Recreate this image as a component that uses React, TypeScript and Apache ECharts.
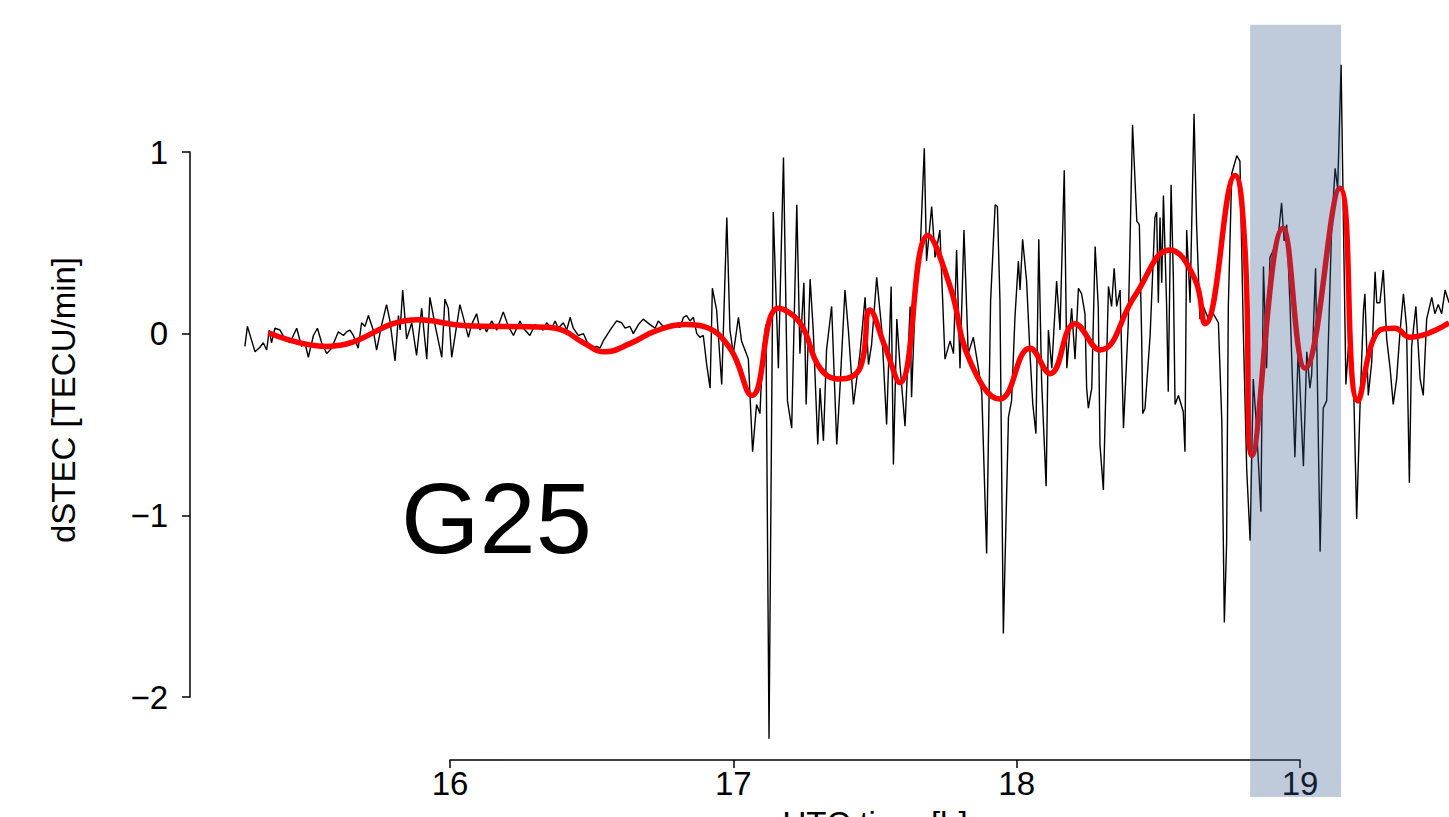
import { useEffect, useRef } from 'react';
import * as echarts from 'echarts';

// dSTEC raw series (time in UTC hours, value in TECU/min)
const blackQuiet: [number, number][] = [
  [15.276,-0.07],[15.285,0.04],[15.312,-0.10],[15.329,-0.075],[15.341,-0.05],[15.353,-0.09],[15.362,0.02],[15.370,-0.05],[15.382,0.03],[15.400,0.02],
  [15.418,-0.03],[15.435,-0.05],[15.459,0.03],[15.476,-0.07],[15.488,-0.05],[15.500,-0.13],[15.518,-0.01],[15.532,0.03],[15.547,-0.05],[15.565,-0.11],
  [15.582,-0.08],[15.606,0.01],[15.624,-0.01],[15.635,0.01],[15.647,0.02],[15.659,-0.01],[15.676,-0.08],[15.688,0.06],[15.700,0.04],[15.712,0.10],
  [15.729,0.02],[15.741,-0.09],[15.759,0.05],[15.776,0.16],[15.788,0.07],[15.806,-0.15],[15.818,0.10],[15.824,0.02],[15.833,0.24],[15.847,-0.03],
  [15.865,0.06],[15.882,-0.12],[15.900,0.14],[15.918,-0.14],[15.929,0.20],[15.947,0.05],[15.971,-0.13],[15.982,0.19],[15.994,0.14],[16.006,-0.13],
  [16.035,0.16],[16.047,0.09],[16.065,-0.02],[16.076,0.05],[16.094,0.11],[16.106,0.02],[16.118,0.05],[16.129,0.01],[16.147,0.07],[16.165,0.02],
  [16.188,0.12],[16.206,0.04],[16.224,-0.01],[16.247,0.07],[16.259,0.03],[16.282,-0.01],[16.300,0.05],[16.318,0.03],[16.329,0.02],[16.341,0.06],
  [16.359,0.03],[16.371,0.07],[16.382,0.03],[16.400,0.06],[16.412,0.02],[16.424,0.09],[16.435,0.03],[16.453,-0.01],[16.471,0.00],[16.488,-0.06],
  [16.500,-0.08],[16.518,-0.07],[16.529,-0.08],[16.541,-0.04],[16.565,0.02],[16.588,0.07],[16.606,0.06],[16.618,0.03],[16.635,0.04],[16.647,0.00],
  [16.665,0.05],[16.682,0.08],[16.706,0.05],[16.724,0.03],[16.735,0.07],[16.753,0.04],[16.776,0.05],[16.800,0.04],
];

const blackActiveA: [number, number][] = [
  [16.812,0.035],[16.824,0.09],[16.835,0.10],[16.847,0.07],[16.859,0.09],[16.871,0.00],[16.882,-0.02],[16.894,-0.01],[16.906,-0.17],[16.918,-0.30],
  [16.926,0.25],[16.941,0.13],[16.959,-0.28],[16.977,0.64],[16.988,0.02],[17.000,-0.11],[17.018,0.09],[17.029,-0.04],[17.041,-0.09],[17.053,-0.14],
  [17.068,-0.65],[17.082,-0.39],[17.094,-0.44],[17.104,-0.08],[17.115,0.05],[17.126,-2.23],[17.141,0.67],[17.159,-0.19],[17.177,0.97],[17.191,-0.37],
  [17.206,-0.52],[17.224,0.71],[17.235,-0.11],[17.249,0.28],[17.257,-0.39],[17.271,0.30],[17.282,0.02],[17.298,-0.61],[17.306,-0.30],[17.318,-0.59],
  [17.329,-0.09],[17.347,0.15],[17.365,-0.61],[17.377,-0.28],[17.394,0.24],[17.406,0.02],[17.424,-0.39],[17.447,-0.11],[17.465,0.20],[17.477,-0.17],
  [17.488,-0.06],[17.506,0.31],[17.524,0.02],[17.541,-0.50],[17.557,0.26],[17.565,-0.72],[17.577,0.08],[17.588,-0.17],[17.606,-0.51],[17.624,0.15],
  [17.629,-0.35],[17.641,0.15],[17.659,0.44],[17.674,1.02],[17.682,0.40],[17.700,0.70],[17.712,0.42],[17.729,0.57],[17.747,-0.14],[17.765,-0.04],
  [17.777,-0.11],[17.788,0.46],[17.800,-0.19],[17.814,0.57],[17.829,-0.11],[17.847,-0.02],[17.865,-0.19],[17.877,-0.33],[17.894,-1.21],[17.908,0.18],
  [17.924,0.71],[17.932,0.70],[17.941,0.18],[17.953,-1.65],[17.971,-0.46],[17.982,-0.37],[17.994,0.09],[18.006,0.40],[18.012,0.24],[18.021,0.52],
  [18.035,0.29],[18.047,-0.11],[18.057,-0.39],[18.068,-0.55],[18.078,0.52],[18.088,-0.26],[18.104,-0.84],[18.112,0.02],[18.124,-0.19],[18.141,0.29],
  [18.153,0.02],[18.168,0.90],
];

const blackActiveB: [number, number][] = [
  [18.177,-0.19],[18.194,0.14],[18.206,-0.14],[18.218,0.25],[18.229,0.22],[18.241,0.11],[18.247,-0.30],[18.253,-0.41],[18.265,-0.30],[18.277,0.48],
  [18.288,0.15],[18.294,-0.61],[18.306,-0.86],[18.324,0.26],[18.335,0.15],[18.344,0.36],[18.353,0.15],[18.365,0.24],[18.377,-0.52],[18.394,0.06],
  [18.409,1.15],[18.424,0.62],[18.433,0.60],[18.441,-0.01],[18.445,-0.44],[18.453,-0.41],[18.471,-0.01],[18.488,0.64],[18.494,0.67],[18.500,0.17],
  [18.506,0.64],[18.512,0.28],[18.518,0.76],[18.529,0.17],[18.535,-0.32],[18.545,0.82],[18.553,0.31],[18.559,-0.39],[18.571,-0.34],[18.588,-0.43],
  [18.594,-0.65],[18.600,0.57],[18.612,0.17],[18.626,1.21],[18.635,0.60],[18.647,0.08],[18.659,0.15],[18.677,0.08],[18.694,0.11],[18.712,0.06],
  [18.724,-0.48],[18.733,-1.59],[18.741,-1.15],[18.747,0.15],[18.759,0.88],[18.777,0.98],[18.788,0.95],[18.800,0.01],[18.812,-0.75],[18.824,-1.14],
  [18.835,-0.25],[18.847,-0.52],[18.862,-0.98],[18.871,0.37],[18.882,-0.19],[18.894,0.42],[18.906,0.46],[18.924,0.55],[18.935,0.72],[18.944,0.51],
  [18.953,0.60],[18.965,0.15],[18.982,-0.68],[18.994,-0.07],[19.000,-0.30],[19.012,-0.73],[19.024,-0.10],[19.035,-0.30],[19.041,-0.23],[19.055,0.36],
  [19.071,-1.20],[19.082,-0.41],[19.094,-0.37],[19.112,0.60],[19.124,0.91],[19.133,0.80],[19.145,1.48],[19.153,0.64],[19.162,-0.28],[19.171,-0.07],
  [19.188,-0.21],[19.200,-1.02],[19.212,-0.39],[19.224,0.13],[19.229,0.22],[19.241,-0.34],[19.253,-0.16],[19.265,0.34],[19.271,0.17],[19.282,0.17],
  [19.294,0.35],[19.306,-0.03],[19.318,-0.19],[19.329,-0.39],[19.341,-0.25],[19.353,0.01],[19.365,0.22],[19.376,0.04],[19.386,-0.82],[19.394,-0.07],
  [19.409,0.15],[19.424,-0.25],[19.435,-0.34],[19.447,0.08],[19.465,0.20],[19.476,0.11],[19.488,0.16],[19.500,0.11],[19.512,0.24],[19.526,0.17],
];

// filtered (smoothed) dSTEC
const filtered: [number, number][] = [
  [15.359,0.005],[15.565,-0.07],[15.888,0.077],[16.047,0.045],[16.341,0.035],[16.400,0.017],[16.471,-0.05],[16.547,-0.10],[16.635,-0.055],[16.729,0.017],
  [16.835,0.05],[16.894,0.04],[16.988,-0.08],[17.066,-0.34],
  [17.158,0.14],[17.235,0.06],[17.306,-0.19],[17.376,-0.25],[17.447,-0.19],[17.482,0.13],[17.535,-0.07],[17.588,-0.27],[17.687,0.54],[17.765,0.26],
  [17.835,-0.15],[17.941,-0.36],[18.047,-0.08],[18.118,-0.22],[18.206,0.055],[18.294,-0.09],[18.418,0.21],[18.541,0.46],[18.629,0.30],[18.665,0.055],
  [18.771,0.87],[18.806,0.46],[18.831,-0.67],[18.940,0.58],[19.018,-0.19],[19.141,0.80],[19.205,-0.37],[19.282,0.02],[19.335,0.03],[19.388,-0.02],
  [19.526,0.06],
];

// visible axes (ticks) and full data extent
const xTicks = { min: 16, max: 19, interval: 1 };
const yTicks = { min: -2, max: 1, interval: 1 };
const xDataRange = { min: 15.2, max: 19.6 };
const yDataRange = { min: -2.6, max: 1.8 };
const bandStart = 18.824;
const bandEnd = 19.145;
const bandTop = 1.70;
const bandBottom = -2.55;
const satelliteLabel = 'G25';
const xName = 'UTC time [h]';
const yName = 'dSTEC [TECU/min]';

const FONT = '"Liberation Sans", Arial, Helvetica, sans-serif';

export default function App() {
  const ref = useRef<HTMLDivElement>(null);
  useEffect(() => {
    document.body.style.margin = '0';
    const chart = echarts.init(ref.current!, null, { renderer: 'svg' });

    // axis-frame grid geometry (pixels)
    const axL = 450, axR = 149, axT = 152, axB = 120;
    const W = 1449, H = 817;
    const pxPerX = (W - axL - axR) / (xTicks.max - xTicks.min);
    const pxPerY = (H - axT - axB) / (yTicks.max - yTicks.min);
    const dataGrid = {
      left: axL - (xTicks.min - xDataRange.min) * pxPerX,
      right: axR - (xDataRange.max - xTicks.max) * pxPerX,
      top: axT - (yDataRange.max - yTicks.max) * pxPerY,
      bottom: axB - (yTicks.min - yDataRange.min) * pxPerY,
    };

    const axisCommon = {
      axisLine: { show: true, onZero: false, lineStyle: { color: '#000', width: 1.5 } },
      axisTick: { show: true, length: 8, lineStyle: { color: '#000', width: 1.5 } },
      splitLine: { show: false },
    };
    chart.setOption({
      animation: false,
      backgroundColor: '#fff',
      grid: [
        { ...dataGrid, containLabel: false, outerBoundsMode: 'none' },
        { left: axL, right: axR, top: axT, bottom: axB, containLabel: false, outerBoundsMode: 'none' },
      ],
      xAxis: [
        { type: 'value', gridIndex: 0, ...xDataRange, show: false },
        {
          type: 'value',
          gridIndex: 1,
          ...xTicks,
          offset: 63,
          ...axisCommon,
          axisLabel: { fontSize: 33, color: '#000', fontFamily: FONT, margin: 7 },
          name: xName,
          nameLocation: 'middle',
          nameGap: 47,
          nameTextStyle: { fontSize: 33, color: '#000', fontFamily: FONT },
        },
      ],
      yAxis: [
        { type: 'value', gridIndex: 0, ...yDataRange, show: false },
        {
          type: 'value',
          gridIndex: 1,
          ...yTicks,
          offset: 260,
          ...axisCommon,
          axisLabel: {
            fontSize: 33,
            color: '#000',
            fontFamily: FONT,
            margin: 22,
            formatter: (v: number) => (v < 0 ? '\u2212' + Math.abs(v) : String(v)),
          },
        },
      ],
      series: [
        {
          type: 'line',
          xAxisIndex: 0,
          yAxisIndex: 0,
          data: [...blackQuiet, ...blackActiveA, ...blackActiveB],
          showSymbol: false,
          clip: false,
          lineStyle: { color: '#000', width: 1.4 },
          z: 2,
        },
        {
          type: 'line',
          xAxisIndex: 0,
          yAxisIndex: 0,
          data: filtered,
          showSymbol: false,
          clip: false,
          smooth: 0.45,
          lineStyle: { color: '#ff0000', width: 5.5 },
          z: 3,
        },
      ],
    });
    const p1 = chart.convertToPixel({ gridIndex: 0 }, [bandStart, bandTop]) as number[];
    const p2 = chart.convertToPixel({ gridIndex: 0 }, [bandEnd, bandBottom]) as number[];
    chart.setOption({
      graphic: [
        {
          type: 'rect',
          z: 100,
          silent: true,
          shape: { x: p1[0], y: p1[1], width: p2[0] - p1[0], height: p2[1] - p1[1] },
          style: { fill: 'rgba(56,94,141,0.32)' },
        },
        {
          type: 'text',
          z: 100,
          x: 401,
          y: 518,
          style: { text: satelliteLabel, font: `101px ${FONT}`, fill: '#000', align: 'left', verticalAlign: 'middle' },
        },
        {
          type: 'text',
          z: 100,
          x: 63,
          y: 400,
          rotation: Math.PI / 2,
          style: { text: yName, font: `33px ${FONT}`, fill: '#000', align: 'center', verticalAlign: 'middle' },
        },
      ],
    });
    return () => chart.dispose();
  }, []);
  return <div ref={ref} style={{ width: 1449, height: 817 }} />;
}
